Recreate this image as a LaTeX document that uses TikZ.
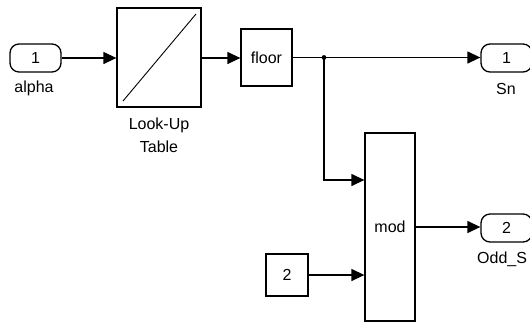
\documentclass[tikz,border=0pt]{standalone}
\usepackage{fontspec}
\setmainfont{Liberation Sans}
\usetikzlibrary{arrows.meta}
\begin{document}
\begin{tikzpicture}[x=1bp,y=-1bp,
  blk/.style={draw,line width=1.3bp,inner sep=0pt,font=\fontsize{16bp}{19bp}\selectfont},
  port/.style={draw,line width=1.3bp,rounded corners=9bp,minimum width=51bp,minimum height=28bp,inner sep=0pt,font=\fontsize{16bp}{19bp}\selectfont},
  lbl/.style={font=\fontsize{16bp}{23bp}\selectfont,inner sep=0pt,align=center},
  sig/.style={line width=1.3bp,-{Triangle[length=13bp,width=12bp]}}]
\useasboundingbox (0,0) rectangle (530,322);
\clip (0,0) rectangle (530,322);
% blocks
\node[port] (in1) at (35.5,58) {1};
\node[lbl] (in1l) at (34,88) {alpha};
\node[blk,minimum width=84bp,minimum height=99bp] (lut) at (159,57.5) {};
\draw[line width=0.9bp] (123,101) -- (196,14);
\node[lbl] (lutl) at (159,135) {Look-Up\\Table};
\node[blk,minimum width=51bp,minimum height=57bp] (floor) at (266.5,57.5) {floor};
\node[port] (out1) at (506.5,58) {1};
\node[lbl] (out1l) at (506,89) {Sn};
\node[blk,minimum width=50bp,minimum height=188bp] (mod) at (390,227) {mod};
\node[blk,minimum width=42bp,minimum height=42bp] (c2) at (287,275) {2};
\node[port] (out2) at (506.5,228) {2};
\node[lbl,anchor=west] (out2l) at (477,259) {Odd\_S};
% junction
\coordinate (j) at (324,57.5);
\coordinate (jd) at (324,180);
\fill (j) circle (2.4bp);
% signals
\draw[sig] (in1.east) -- (lut.west |- in1.east);
\draw[sig] (lut.east |- in1.east) -- (floor.west |- in1.east);
\draw[sig] (floor.east |- j) -- (out1.west |- j);
\draw[sig] (j) -- (jd) -- (mod.west |- jd);
\draw[sig] (c2.east) -- (mod.west |- c2.east);
\draw[sig] (mod.east) -- (out2.west |- mod.east);
\end{tikzpicture}
\end{document}
